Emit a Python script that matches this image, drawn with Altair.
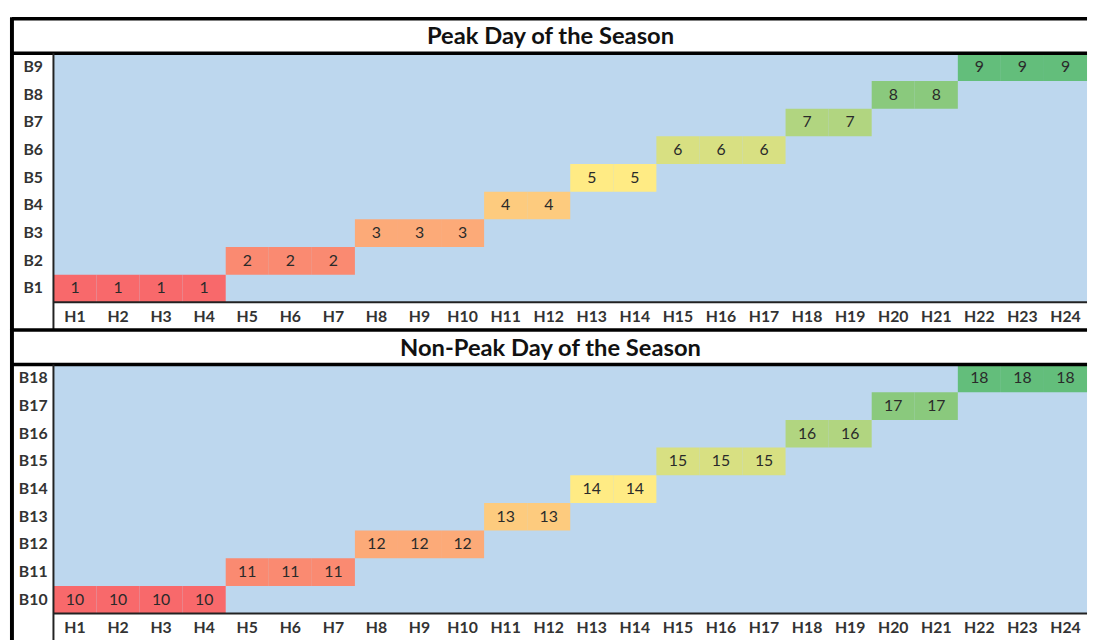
import altair as alt
import pandas as pd

hours = ["H1", "H2", "H3", "H4", "H5", "H6", "H7", "H8", "H9", "H10", "H11", "H12",
         "H13", "H14", "H15", "H16", "H17", "H18", "H19", "H20", "H21", "H22", "H23", "H24"]

peak_bands = ["B1", "B2", "B3", "B4", "B5", "B6", "B7", "B8", "B9"]
peak_values = [1, 1, 1, 1, 2, 2, 2, 3, 3, 3, 4, 4, 5, 5, 6, 6, 6, 7, 7, 8, 8, 9, 9, 9]

nonpeak_bands = ["B10", "B11", "B12", "B13", "B14", "B15", "B16", "B17", "B18"]
nonpeak_values = [10, 10, 10, 10, 11, 11, 11, 12, 12, 12, 13, 13, 14, 14, 15, 15, 15,
                  16, 16, 17, 17, 18, 18, 18]

titles = ["Peak Day of the Season", "Non-Peak Day of the Season"]

W = 1046
H = 252
TITLE_H = 35
LEFT_COL = 42
XLAB_H = 28
FONT = "Lato"


def one(**enc):
    return alt.Chart(pd.DataFrame({"k": [0]})).mark_rule(**enc.pop("_mark")).encode(**enc)


def panel(title, bands, values):
    df = pd.DataFrame({
        "hour": hours,
        "band": ["B" + str(v) for v in values],
        "value": values,
    })
    lo, hi = min(values), max(values)
    mid = (lo + hi) / 2
    xenc = alt.X("hour:O", title=None,
                 scale=alt.Scale(domain=hours, paddingInner=0, paddingOuter=0),
                 axis=alt.Axis(orient="bottom", labelAngle=0, ticks=False, tickSize=0,
                               domain=False, grid=False, labelPadding=14,
                               labelBaseline="middle", labelFont=FONT,
                               labelFontSize=16, labelFontWeight="bold",
                               labelColor="#333333"))
    yenc = alt.Y("band:O", title=None,
                 scale=alt.Scale(domain=bands[::-1], paddingInner=0, paddingOuter=0),
                 axis=alt.Axis(orient="left", ticks=False, tickSize=0, domain=False,
                               grid=False, labelPadding=21, labelAlign="center",
                               labelBaseline="middle", labelFont=FONT,
                               labelFontSize=16, labelFontWeight="bold",
                               labelColor="#333333"))
    base = alt.Chart(df).encode(x=xenc, y=yenc)
    rects = base.mark_rect().encode(
        color=alt.Color("value:Q", legend=None,
                        scale=alt.Scale(domain=[lo, mid, hi],
                                        range=["#F8696B", "#FFEB84", "#63BE7B"],
                                        interpolate="rgb")))
    texts = base.mark_text(font=FONT, fontSize=16, color="#2a2a2a",
                           baseline="middle").encode(text="value:Q")

    head = alt.Chart(pd.DataFrame({"t": [title]})).mark_text(
        font=FONT, fontSize=24, fontWeight="bold", color="#111111",
        align="center", baseline="alphabetic",
    ).encode(text="t:N", x=alt.value(503), y=alt.value(-9))

    thick = {"color": "black", "strokeWidth": 3.5}
    thin = {"color": "#222222", "strokeWidth": 2}
    r_top = one(_mark=thick, x=alt.value(-LEFT_COL), x2=alt.value(W),
                y=alt.value(-TITLE_H))
    r_title = one(_mark=thick, x=alt.value(-LEFT_COL), x2=alt.value(W),
                  y=alt.value(0))
    r_left = one(_mark={"color": "black", "strokeWidth": 4},
                 x=alt.value(-LEFT_COL), y=alt.value(-TITLE_H - 1.5),
                 y2=alt.value(H + XLAB_H))
    r_sep = one(_mark=thin, x=alt.value(0), y=alt.value(0),
                y2=alt.value(H + XLAB_H))
    r_bot = one(_mark=thin, x=alt.value(0), x2=alt.value(W), y=alt.value(H))

    return alt.layer(rects, texts, head, r_top, r_title, r_left, r_sep, r_bot).properties(
        width=W, height=H,
    ).resolve_scale(color="independent")


chart = alt.vconcat(
    panel(titles[0], peak_bands, peak_values),
    panel(titles[1], nonpeak_bands, nonpeak_values),
    spacing=63, bounds="flush",
).resolve_scale(color="independent", x="independent", y="independent").properties(
    padding={"left": 2, "top": 3, "right": 0, "bottom": 0},
    background="white",
).configure_view(stroke=None, fill="#BDD7EE")

chart.save("out.html", embed_options={"renderer": "svg", "actions": False})
